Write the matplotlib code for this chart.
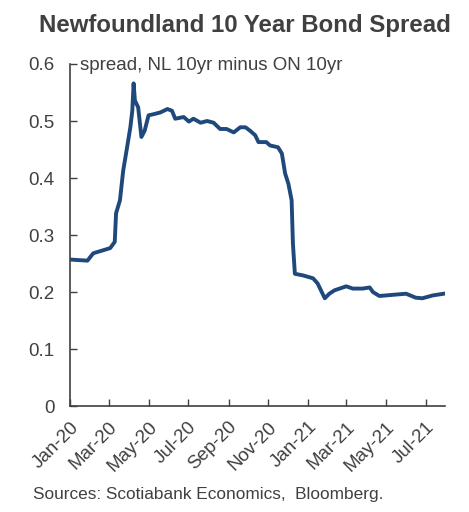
import matplotlib
matplotlib.use("Agg")
import matplotlib.pyplot as plt
import matplotlib.dates as mdates
import pandas as pd

plt.rcParams["font.family"] = ["Liberation Sans", "DejaVu Sans"]

# NL 10yr minus ON 10yr spread (percentage points)
dates = [
    "2020-01-01", "2020-01-28", "2020-02-06", "2020-03-03", "2020-03-10",
    "2020-03-12", "2020-03-18", "2020-03-23", "2020-03-29", "2020-04-03",
    "2020-04-06", "2020-04-08", "2020-04-10", "2020-04-15", "2020-04-20",
    "2020-04-25", "2020-05-01", "2020-05-09", "2020-05-19", "2020-05-30",
    "2020-06-06", "2020-06-11", "2020-06-24", "2020-07-02", "2020-07-09",
    "2020-07-20", "2020-07-30", "2020-08-09", "2020-08-19", "2020-08-29",
    "2020-09-09", "2020-09-19", "2020-09-27", "2020-10-04", "2020-10-12",
    "2020-10-17", "2020-10-29", "2020-11-04", "2020-11-16", "2020-11-22",
    "2020-11-27", "2020-12-02", "2020-12-07", "2020-12-09", "2020-12-12",
    "2020-12-25", "2021-01-09", "2021-01-16", "2021-01-27", "2021-02-03",
    "2021-02-11", "2021-03-01", "2021-03-11", "2021-03-26", "2021-04-06",
    "2021-04-11", "2021-04-21", "2021-05-11", "2021-06-01", "2021-06-16",
    "2021-06-26", "2021-07-12", "2021-07-29",
]
spread = [
    0.257, 0.255, 0.268, 0.277, 0.288,
    0.338, 0.361, 0.413, 0.454, 0.489,
    0.518, 0.566, 0.536, 0.524, 0.472,
    0.483, 0.510, 0.512, 0.515, 0.521,
    0.518, 0.504, 0.507, 0.499, 0.504,
    0.497, 0.500, 0.497, 0.486, 0.486,
    0.480, 0.489, 0.489, 0.483, 0.475,
    0.463, 0.463, 0.457, 0.454, 0.443,
    0.408, 0.390, 0.361, 0.285, 0.232,
    0.229, 0.224, 0.215, 0.189, 0.197,
    0.203, 0.210, 0.206, 0.206, 0.208,
    0.200, 0.193, 0.195, 0.197, 0.190,
    0.189, 0.194, 0.197,
]

df = pd.DataFrame({"date": pd.to_datetime(dates), "spread": spread})

text_col = "#404040"

fig = plt.figure(figsize=(4.69, 5.12), dpi=100)
ax = fig.add_axes([0.149, 0.207, 0.800, 0.668])

ax.plot(df["date"], df["spread"], color="#1f497d", linewidth=2.8)

ax.set_ylim(0, 0.6)
ax.set_yticks([0, 0.1, 0.2, 0.3, 0.4, 0.5, 0.6])
ax.set_yticklabels(["0", "0.1", "0.2", "0.3", "0.4", "0.5", "0.6"])
ax.set_xlim(pd.Timestamp("2020-01-01"), pd.Timestamp("2021-07-31"))
ax.xaxis.set_major_locator(mdates.MonthLocator(bymonth=[1, 3, 5, 7, 9, 11]))
ax.xaxis.set_major_formatter(mdates.DateFormatter("%b-%y"))

ax.tick_params(direction="in", length=5, width=1, labelsize=13.5,
               color="#404040", labelcolor=text_col)
ax.tick_params(axis="y", pad=11)
ax.tick_params(axis="x", pad=9)
for lbl in ax.get_xticklabels():
    lbl.set_rotation(45)
    lbl.set_ha("right")
    lbl.set_rotation_mode("anchor")

for side in ["top", "right"]:
    ax.spines[side].set_visible(False)
for side in ["left", "bottom"]:
    ax.spines[side].set_color("#404040")
    ax.spines[side].set_linewidth(1.2)

ax.text(0.027, 0.997, "spread, NL 10yr minus ON 10yr", transform=ax.transAxes,
        fontsize=13.5, va="center", ha="left", color=text_col)

fig.text(0.522, 0.95, "Newfoundland 10 Year Bond Spread", ha="center", va="center",
         fontsize=17.3, fontweight="bold", color=text_col)
fig.text(0.07, 0.035, "Sources: Scotiabank Economics,  Bloomberg.", ha="left",
         va="center", fontsize=12.4, color=text_col)

fig.savefig("out.png", dpi=100)
